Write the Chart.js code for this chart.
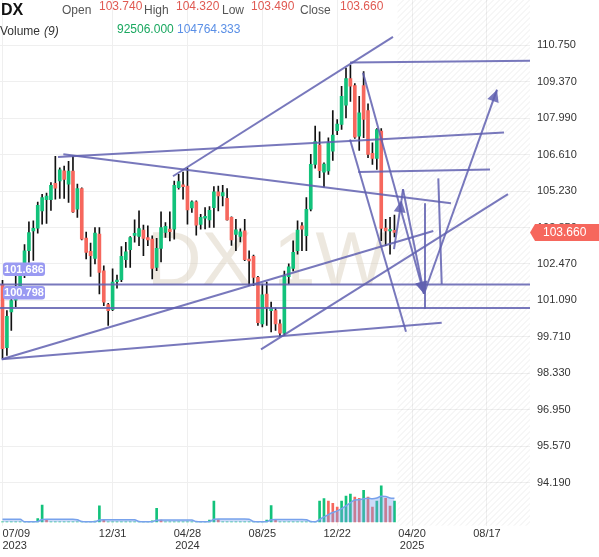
<!DOCTYPE html>
<html>
<head>
<meta charset="utf-8">
<script src="https://cdn.jsdelivr.net/npm/chart.js@4.4.1/dist/chart.umd.min.js"></script>
<style>
  html, body { margin: 0; padding: 0; background: #fff; }
  canvas { display: block; }
</style>
</head>
<body>
<canvas id="dxChart" width="599" height="557"></canvas>
<script>
// weekly candles, week index 0 = 07/09/2023
const opens = [101.70, 99.30, 100.65, 101.10, 101.65, 102.10, 102.97, 103.72, 103.82, 104.48,
  104.90, 104.90, 105.52, 105.61, 106.00, 105.49, 105.99, 104.54, 105.32, 103.45,
  102.95, 102.68, 103.60, 102.21, 100.93, 100.74, 101.80, 101.87, 102.63, 103.01,
  103.55, 103.51, 103.75, 103.47, 103.41, 102.34, 103.06, 103.66, 103.79, 103.79,
  105.36, 105.47, 105.42, 104.59, 104.82, 103.97, 104.20, 104.14, 104.60, 105.20,
  105.05, 104.95, 104.23, 103.59, 103.51, 103.72, 102.65, 102.76, 101.96, 100.20,
  101.33, 100.70, 100.70, 100.20, 99.85, 101.99, 102.30, 102.97, 103.91, 103.54,
  104.54, 106.24, 106.97, 105.95, 105.99, 106.74, 107.52, 107.75, 108.48, 109.49,
  109.23, 107.31, 109.23, 108.28, 106.66, 106.47, 107.50, 103.83, 103.72, 103.74];
const highs = [101.85, 100.70, 101.15, 102.00, 102.25, 103.20, 104.06, 104.10, 104.81, 105.11,
  105.15, 105.55, 106.55, 106.11, 106.18, 106.36, 106.55, 105.49, 105.35, 103.68,
  103.26, 103.85, 103.85, 102.40, 100.98, 102.28, 102.05, 103.13, 103.29, 103.51,
  104.14, 104.48, 103.94, 103.91, 103.53, 103.44, 104.44, 104.04, 104.44, 105.61,
  105.86, 105.95, 106.11, 104.86, 104.86, 104.35, 104.60, 104.64, 105.40, 105.42,
  105.45, 105.32, 104.25, 104.16, 103.80, 104.16, 102.97, 102.80, 102.00, 101.71,
  101.78, 101.02, 100.80, 100.35, 102.20, 102.47, 103.34, 104.10, 104.04, 104.98,
  106.62, 107.69, 107.47, 106.30, 107.25, 108.28, 107.94, 109.20, 109.89, 109.99,
  109.30, 108.82, 109.76, 108.53, 107.06, 107.60, 107.60, 104.16, 104.23, 104.32];
const lows = [98.90, 99.00, 99.95, 100.85, 101.45, 101.95, 102.53, 102.60, 103.63, 103.98,
  104.00, 104.50, 104.92, 104.95, 104.95, 104.80, 104.42, 104.23, 103.38, 102.66,
  102.00, 102.47, 101.33, 100.89, 100.14, 100.70, 101.55, 101.80, 102.34, 102.34,
  103.29, 103.16, 102.78, 103.16, 101.90, 102.21, 102.55, 103.47, 103.34, 103.41,
  105.30, 104.92, 103.98, 104.42, 103.56, 103.79, 103.80, 103.85, 103.85, 104.48,
  104.67, 104.13, 103.17, 102.97, 103.30, 102.59, 101.65, 101.65, 100.14, 100.08,
  100.14, 99.89, 99.95, 99.72, 99.75, 101.71, 102.20, 102.84, 102.97, 102.97,
  104.48, 106.10, 105.74, 105.38, 105.86, 106.39, 107.37, 107.56, 108.00, 108.63,
  107.22, 106.77, 107.25, 106.49, 106.24, 106.05, 103.35, 103.16, 102.84, 103.49];
const closes = [99.26, 100.48, 101.08, 101.62, 102.02, 102.97, 103.66, 103.82, 104.69, 104.98,
  105.04, 105.45, 105.34, 106.03, 105.67, 105.99, 104.44, 105.32, 103.41, 102.91,
  102.78, 103.64, 102.15, 101.02, 100.70, 101.78, 101.86, 102.76, 102.93, 103.47,
  103.63, 103.81, 103.44, 103.38, 102.30, 103.06, 103.85, 103.89, 103.69, 105.45,
  105.59, 105.40, 104.52, 104.82, 103.94, 104.23, 104.27, 104.50, 105.20, 105.05,
  105.17, 104.14, 103.38, 103.76, 103.69, 102.63, 102.58, 101.96, 100.24, 101.30,
  100.83, 100.80, 100.20, 99.85, 102.00, 102.36, 102.91, 103.75, 103.79, 104.54,
  106.24, 107.10, 106.00, 106.25, 107.06, 107.35, 107.77, 108.82, 109.49, 109.20,
  107.27, 108.19, 107.94, 106.62, 106.47, 107.56, 103.81, 103.72, 103.77, 103.66];

const volumes = [1000, 1000, 1000, 1000, 1000, 1000, 1000, 1000, 15000, 75000,
  12000, 1000, 1000, 1000, 1000, 1000, 1000, 1000, 1000, 1000,
  1000, 4000, 72000, 10000, 1000, 1000, 1000, 1000, 1000, 1000,
  1000, 1000, 1000, 1000, 5000, 60000, 9000, 1000, 1000, 1000,
  1000, 1000, 1000, 1000, 1000, 1000, 1000, 8000, 93000, 11000,
  1000, 1000, 1000, 1000, 1000, 1000, 1000, 1000, 1000, 1000,
  8000, 73000, 12000, 1000, 1000, 1000, 1000, 1000, 1000, 1000,
  1000, 1000, 92000, 104000, 92000, 83000, 66000, 92000, 114000, 123000,
  110000, 105000, 140000, 110000, 66000, 92000, 160000, 105000, 70000, 92506];
const volumeUp = [1, 1, 1, 1, 1, 1, 1, 1, 1, 1,
  0, 1, 1, 1, 1, 1, 1, 1, 1, 1,
  1, 1, 1, 0, 1, 1, 1, 1, 1, 1,
  1, 1, 1, 1, 1, 1, 0, 1, 1, 1,
  1, 1, 1, 1, 1, 1, 1, 1, 1, 0,
  1, 1, 1, 1, 1, 1, 1, 1, 1, 1,
  1, 1, 0, 1, 1, 1, 1, 1, 1, 1,
  1, 1, 1, 1, 0, 0, 0, 1, 1, 1,
  0, 0, 1, 0, 0, 1, 1, 0, 0, 1];
const volumeMA = [12000, 12000, 12000, 12000, 12000, 1000, 1000, 1000, 2556, 10778,
  12000, 12000, 12000, 12000, 12000, 12000, 12000, 10444, 2111, 1000,
  1000, 1333, 9222, 10222, 10222, 10222, 10222, 10222, 10222, 10222,
  9889, 2000, 1000, 1000, 1444, 8000, 8889, 8889, 8889, 8889,
  8889, 8889, 8889, 8444, 1889, 1000, 1000, 1778, 12000, 13111,
  13111, 13111, 13111, 13111, 13111, 13111, 12333, 2111, 1000, 1000,
  1778, 9778, 11000, 11000, 11000, 11000, 11000, 11000, 11000, 10222,
  2222, 1000, 11111, 22556, 32667, 41778, 49000, 59111, 71667, 85222,
  97333, 98778, 102778, 104778, 102889, 105778, 113333, 112333, 106444, 104764.333];

const xTickIndex = [0, 25, 42, 59, 76, 93, 110];
const xTickLabels = [["07/09", "2023"], ["12/31"], ["04/28", "2024"], ["08/25"], ["12/22"], ["04/20", "2025"], ["08/17"]];
const yTicks = [94.19, 95.57, 96.95, 98.33, 99.71, 101.09, 102.47, 103.85, 105.23, 106.61, 107.99, 109.37, 110.75];

const levels = [101.686, 100.798];
// drawn lines: [[week, price], [week, price]]
const trendLines = [
  [[38.71, 105.79], [88.67, 111.07]],
  [[78.91, 110.10], [119.8, 110.165]],
  [[12.60, 106.52], [113.87, 107.45]],
  [[13.81, 106.62], [101.84, 104.77]],
  [[80.79, 105.95], [110.70, 106.05]],
  [[-0.18, 98.86], [97.82, 103.72]],
  [[-0.18, 98.86], [99.73, 100.24]],
  [[58.70, 99.23], [114.78, 105.11]],
  [[78.91, 107.18], [91.62, 99.90]],
  [[90.60, 104.88], [90.94, 105.30]],
  [[95.94, 104.77], [95.94, 100.77]],
  [[98.96, 105.71], [99.73, 101.71]],
];
const arrowLines = [
  [[81.86, 109.71], [95.71, 101.34]],
  [[88.90, 103.03], [90.60, 104.88]],
  [[90.94, 105.30], [95.71, 101.34]],
  [[95.71, 101.34], [112.29, 109.07]],
];

const UP = "#12c27b";
const DOWN = "#f6675d";
const LINE = "rgba(96,96,176,0.85)";
const FONT = '"Liberation Sans", Arial, sans-serif';

const lastIdx = closes.length - 1;
const candleColors = closes.map((c, i) => (c >= opens[i] ? UP : DOWN));

function segDataset(seg) {
  return {
    type: "line",
    data: seg.map((p) => ({ x: p[0], y: p[1] })),
    borderColor: LINE,
    borderWidth: 2,
    pointRadius: 0,
    fill: false,
    order: 0,
  };
}

const overlay = {
  id: "overlay",
  beforeDatasetsDraw(chart) {
    const { ctx, chartArea: a, scales } = chart;
    // future zone hatch
    const hx = scales.x.getPixelForValue(lastIdx + 0.7);
    const h = a.bottom - a.top;
    ctx.save();
    ctx.beginPath();
    ctx.rect(hx, a.top, a.right - hx, h);
    ctx.clip();
    ctx.strokeStyle = "rgba(0,0,0,0.07)";
    ctx.lineWidth = 1;
    ctx.beginPath();
    for (let k = hx - h; k < a.right; k += 6) {
      ctx.moveTo(k, a.bottom);
      ctx.lineTo(k + h, a.top);
    }
    ctx.stroke();
    ctx.restore();
    // watermark
    ctx.save();
    ctx.font = "76px " + FONT;
    ctx.fillStyle = "rgba(214,204,184,0.45)";
    ctx.textAlign = "center";
    ctx.fillText("DX 1W", (a.left + a.right) / 2 + 2, a.top + 285);
    ctx.restore();
  },
  afterDatasetsDraw(chart) {
    const { ctx, scales } = chart;
    const sx = scales.x, sy = scales.y;
    ctx.save();
    ctx.fillStyle = LINE;
    arrowLines.forEach(([p0, p1]) => {
      const x0 = sx.getPixelForValue(p0[0]), y0 = sy.getPixelForValue(p0[1]);
      const x1 = sx.getPixelForValue(p1[0]), y1 = sy.getPixelForValue(p1[1]);
      ctx.save();
      ctx.translate(x1, y1);
      ctx.rotate(Math.atan2(y1 - y0, x1 - x0));
      ctx.beginPath();
      ctx.moveTo(0, 0);
      ctx.lineTo(-12, -6);
      ctx.lineTo(-12, 6);
      ctx.closePath();
      ctx.fill();
      ctx.restore();
    });
    // level tags
    levels.forEach((v) => {
      const y = sy.getPixelForValue(v);
      ctx.fillStyle = "#9a9af2";
      ctx.beginPath();
      ctx.roundRect(3, y - 22, 42, 13.5, 3);
      ctx.fill();
      ctx.fillStyle = "#fff";
      ctx.font = "bold 11px " + FONT;
      ctx.textAlign = "center";
      ctx.textBaseline = "middle";
      ctx.fillText(v.toFixed(3), 24, y - 15);
    });
    ctx.restore();
  },
  afterDraw(chart) {
    const { ctx, chartArea: a, scales } = chart;
    // last price tag
    const last = closes[lastIdx];
    const y = scales.y.getPixelForValue(last);
    ctx.save();
    ctx.fillStyle = DOWN;
    ctx.beginPath();
    ctx.moveTo(a.right, y);
    ctx.lineTo(a.right + 5, y - 8.5);
    ctx.lineTo(chart.width, y - 8.5);
    ctx.lineTo(chart.width, y + 8.5);
    ctx.lineTo(a.right + 5, y + 8.5);
    ctx.closePath();
    ctx.fill();
    ctx.fillStyle = "#fff";
    ctx.font = "12px " + FONT;
    ctx.textBaseline = "middle";
    ctx.fillText(last.toFixed(3), a.right + 13, y + 0.5);

    // header
    ctx.textBaseline = "alphabetic";
    ctx.font = "bold 16px " + FONT;
    ctx.fillStyle = "#111";
    ctx.fillText("DX", 1, 15);
    const hdr = [["Open", opens[lastIdx], 62, 99], ["High", highs[lastIdx], 144, 176],
      ["Low", lows[lastIdx], 222, 251], ["Close", closes[lastIdx], 300, 340]];
    hdr.forEach(([lbl, v, lx, vx]) => {
      ctx.font = "12px " + FONT;
      ctx.fillStyle = "#555";
      ctx.fillText(lbl, lx, 13.5);
      ctx.fillStyle = "#e05a52";
      ctx.fillText(v.toFixed(3), vx, 10);
    });
    ctx.fillStyle = "#333";
    ctx.font = "12px " + FONT;
    ctx.fillText("Volume", 0, 35);
    ctx.font = "italic 12px " + FONT;
    ctx.fillText("(9)", 44, 35);
    ctx.font = "12px " + FONT;
    ctx.fillStyle = "#1aa860";
    ctx.fillText(volumes[lastIdx].toFixed(3), 117, 33);
    ctx.fillStyle = "#5a8fe6";
    ctx.fillText(volumeMA[lastIdx].toFixed(3), 177, 33);
    ctx.restore();
  },
};

const ctx = document.getElementById("dxChart").getContext("2d");

const dxChart = new Chart(ctx, {
  type: "bar",
  data: {
    datasets: [
      ...levels.map((v) => segDataset([[-1, v], [121, v]])),
      ...trendLines.map(segDataset),
      ...arrowLines.map(segDataset),
      {
        type: "line",
        label: "Volume MA",
        yAxisID: "yv",
        data: volumeMA.map((v, i) => ({ x: i, y: v })),
        borderColor: "#78a2ec",
        borderWidth: 1.5,
        backgroundColor: "rgba(120,160,240,0.38)",
        fill: "origin",
        pointRadius: 0,
        cubicInterpolationMode: "monotone",
        order: 1,
      },
      {
        label: "Volume",
        yAxisID: "yv",
        data: volumes.map((v, i) => ({ x: i, y: v })),
        backgroundColor: volumeUp.map((u) => (u ? UP : DOWN)),
        barThickness: 2,
        grouped: false,
        order: 2,
      },
      {
        label: "Body",
        data: opens.map((o, i) => ({ x: i, y: [o, closes[i]] })),
        backgroundColor: candleColors,
        barThickness: 3,
        minBarLength: 1,
        grouped: false,
        order: 3,
      },
      {
        label: "Wick",
        data: lows.map((l, i) => ({ x: i, y: [l, highs[i]] })),
        backgroundColor: "#111",
        barThickness: 1,
        minBarLength: 1,
        grouped: false,
        order: 4,
      },
    ],
  },
  options: {
    responsive: false,
    animation: false,
    devicePixelRatio: 1,
    layout: { padding: { left: 0, top: 0, right: 0, bottom: 3 } },
    plugins: {
      legend: { display: false },
      tooltip: { enabled: false },
    },
    scales: {
      x: {
        type: "linear",
        min: -0.568,
        max: 119.78,
        offset: false,
        afterBuildTicks: (s) => { s.ticks = xTickIndex.map((v) => ({ value: v })); },
        afterFit: (s) => { s.paddingLeft = 0; s.paddingRight = 0; },
        ticks: {
          autoSkip: false,
          maxRotation: 0,
          padding: 2,
          color: "#333",
          font: { family: FONT, size: 11, lineHeight: 1.1 },
          callback: (v) => {
            const lbl = xTickLabels[xTickIndex.indexOf(v)];
            // first label sits at the left edge, shift it right with spaces
            if (v === 0) return lbl.map((s) => " ".repeat(s.length * 2 - (s.includes("/") ? 1 : 0)) + s);
            return lbl;
          },
        },
        grid: { color: "#efefef", drawTicks: false, offset: false },
        border: { display: false },
      },
      y: {
        type: "linear",
        position: "right",
        min: 92.55,
        max: 112.467,
        afterBuildTicks: (s) => { s.ticks = yTicks.map((v) => ({ value: v })); },
        afterFit: (s) => { s.width = 69; s.paddingTop = 0; s.paddingBottom = 0; },
        ticks: {
          padding: 7,
          color: "#333",
          font: { family: FONT, size: 11 },
          callback: (v) => v.toFixed(3),
        },
        grid: { color: "#efefef", drawTicks: false },
        border: { display: false },
      },
      yv: {
        type: "linear",
        display: false,
        min: -16720,
        max: 2305600,
      },
    },
  },
  plugins: [overlay],
});
</script>
</body>
</html>
